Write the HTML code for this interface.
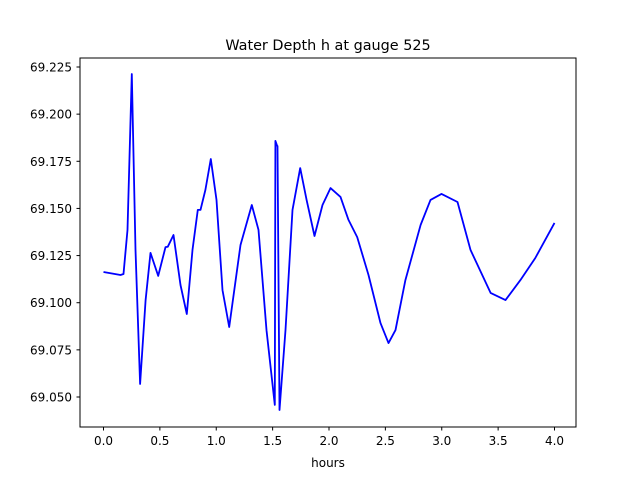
<!DOCTYPE html>
<html><head><meta charset="utf-8"><style>
html,body{margin:0;padding:0;background:#fff;}
svg{display:block;font-family:"DejaVu Sans","Liberation Sans",sans-serif;}
</style></head><body>
<svg id="chart" width="640" height="480" xmlns="http://www.w3.org/2000/svg">
<rect x="0" y="0" width="640" height="480" fill="#fff"/>
<text x="328" y="50" text-anchor="middle" font-size="14.4">Water Depth h at gauge 525</text>
<g id="xticks"></g>
<g id="yticks"></g>
<path id="line" fill="none" stroke="#0000ff" stroke-width="1.8" stroke-linejoin="round"/>
<rect x="80" y="58" width="496" height="369" fill="none" stroke="#000" stroke-width="1"/>
<text x="328" y="467" text-anchor="middle" font-size="12">hours</text>
</svg>
<script>
const hours=[0,0.151,0.177,0.213,0.251,0.284,0.325,0.373,0.417,0.485,0.55,0.57,0.621,0.683,0.739,0.789,0.836,0.86,0.904,0.952,1.002,1.055,1.115,1.215,1.315,1.375,1.446,1.519,1.525,1.541,1.543,1.561,1.614,1.676,1.745,1.801,1.871,1.942,2.013,2.102,2.173,2.25,2.35,2.457,2.528,2.59,2.678,2.812,2.9,2.998,3.14,3.255,3.433,3.565,3.698,3.83,4.0];
const depth=[69.1163,69.1147,69.1152,69.1386,69.2213,69.128,69.0569,69.1014,69.1264,69.1142,69.1295,69.1297,69.1359,69.1094,69.094,69.128,69.1492,69.1492,69.1598,69.1762,69.1545,69.1067,69.0871,69.1306,69.1518,69.1386,69.0855,69.0458,69.1858,69.1831,69.1831,69.0431,69.0855,69.1492,69.1714,69.1545,69.1354,69.1518,69.1608,69.1561,69.1439,69.1348,69.1147,69.0892,69.0786,69.0855,69.112,69.1412,69.1545,69.1577,69.1534,69.128,69.1052,69.1014,69.112,69.1237,69.1423];
const xTickLabels=["0.0","0.5","1.0","1.5","2.0","2.5","3.0","3.5","4.0"];
const yTickLabels=["69.050","69.075","69.100","69.125","69.150","69.175","69.200","69.225"];
const xs=t=>103.5+t*112.75;
const ys=v=>67-(v-69.225)*1885.7;
const NS="http://www.w3.org/2000/svg";
const xg=document.getElementById('xticks'),yg=document.getElementById('yticks');
xTickLabels.forEach(l=>{const x=xs(parseFloat(l));
 const ln=document.createElementNS(NS,'line');
 
 
 ln.setAttribute('x1',x);ln.setAttribute('x2',x);ln.setAttribute('y1',427);ln.setAttribute('y2',430.5);ln.setAttribute('stroke','#000');xg.appendChild(ln);
 const tx=document.createElementNS(NS,'text');
 
 
 tx.setAttribute('x',x);tx.setAttribute('y',445);tx.setAttribute('text-anchor','middle');tx.setAttribute('font-size','12');tx.textContent=l;xg.appendChild(tx);});
yTickLabels.forEach(l=>{const y=ys(parseFloat(l));
 const ln=document.createElementNS(NS,'line');
 
 
 ln.setAttribute('x1',76.5);ln.setAttribute('x2',80);ln.setAttribute('y1',y);ln.setAttribute('y2',y);ln.setAttribute('stroke','#000');yg.appendChild(ln);
 const tx=document.createElementNS(NS,'text');
 
 
 tx.setAttribute('x',72);tx.setAttribute('y',y+4.5);tx.setAttribute('text-anchor','end');tx.setAttribute('font-size','12');tx.textContent=l;yg.appendChild(tx);});
document.getElementById('line').setAttribute('d',hours.map((t,i)=>(i?'L':'M')+xs(t).toFixed(1)+' '+ys(depth[i]).toFixed(1)).join(' '));
</script>
</body></html>
